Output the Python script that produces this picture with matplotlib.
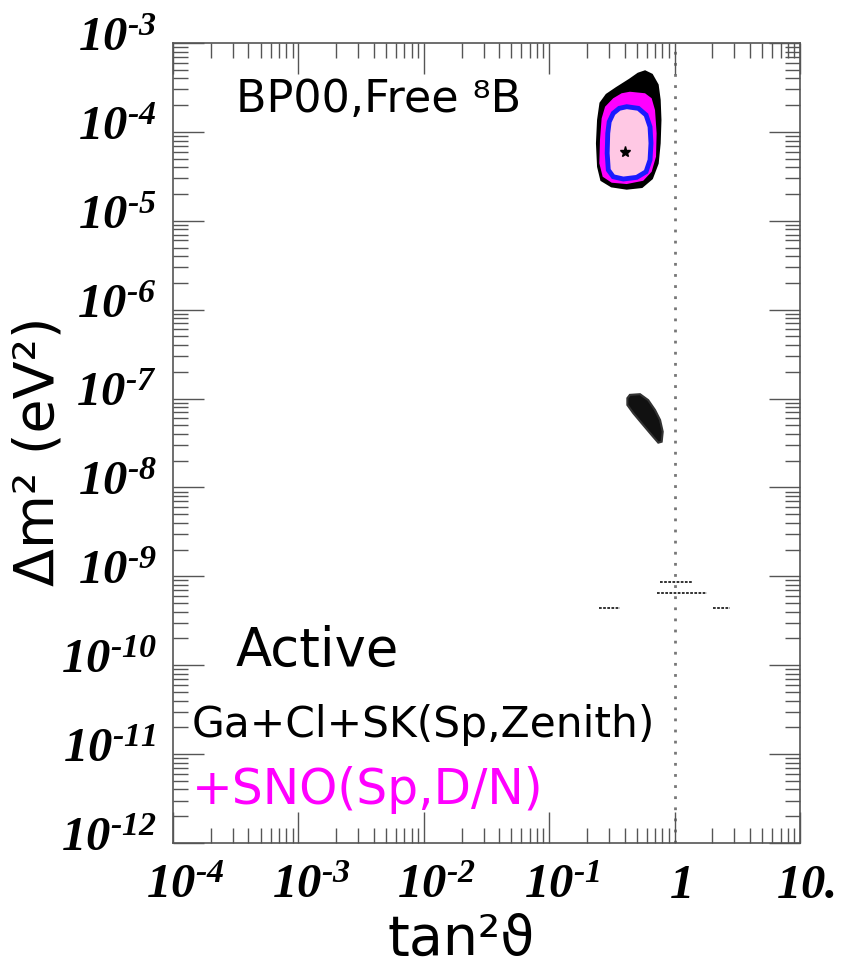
import numpy as np
import matplotlib
matplotlib.use('Agg')
import matplotlib.pyplot as plt
import matplotlib.transforms as mtransforms
from matplotlib.ticker import LogLocator, NullFormatter

# Fuentes: números de los ejes en serif negrita cursiva (mathtext custom)
plt.rcParams['mathtext.fontset'] = 'custom'
plt.rcParams['mathtext.rm'] = 'Liberation Serif:italic:bold'
plt.rcParams['mathtext.it'] = 'Liberation Serif:italic:bold'
plt.rcParams['font.family'] = ['DejaVu Sans']

# Datos: contornos (tan^2 theta, Delta m^2 en eV^2)
# Región exterior negra (LMA)
lma_black_tan2 = [0.581, 0.656, 0.728, 0.755, 0.766, 0.755, 0.728, 0.656, 0.547, 0.415,
                  0.315, 0.262, 0.247, 0.242, 0.247, 0.258, 0.288, 0.345, 0.440, 0.514]
lma_black_dm2 = [4.75e-4, 4.37e-4, 3.37e-4, 2.29e-4, 1.36e-4, 7.44e-5, 4.43e-5, 3.01e-5, 2.42e-5, 2.32e-5,
                 2.46e-5, 2.88e-5, 4.06e-5, 7.44e-5, 1.36e-4, 2.10e-4, 2.60e-4, 3.09e-4, 3.84e-4, 4.48e-4]
# Región magenta
lma_mag_tan2 = [0.440, 0.581, 0.656, 0.698, 0.719, 0.711, 0.656, 0.562, 0.415, 0.315,
                0.267, 0.251, 0.254, 0.262, 0.279, 0.324, 0.378]
lma_mag_dm2 = [2.83e-4, 2.72e-4, 2.39e-4, 1.76e-4, 9.64e-5, 5.26e-5, 3.56e-5, 2.82e-5, 2.59e-5, 2.68e-5,
               3.13e-5, 4.43e-5, 8.11e-5, 1.42e-4, 1.92e-4, 2.39e-4, 2.72e-4]
# Región interior (borde azul, relleno rosa)
lma_in_tan2 = [0.415, 0.514, 0.592, 0.637, 0.648, 0.637, 0.592, 0.499, 0.390, 0.324,
               0.296, 0.290, 0.293, 0.301, 0.324, 0.362]
lma_in_dm2 = [1.92e-4, 1.84e-4, 1.55e-4, 1.14e-4, 7.44e-5, 4.83e-5, 3.56e-5, 3.08e-5, 2.95e-5, 3.13e-5,
              3.73e-5, 5.74e-5, 9.64e-5, 1.30e-4, 1.62e-4, 1.84e-4]
# Mejor ajuste
best_tan2 = [0.40]
best_dm2 = [5.9e-5]
# Región LOW
low_tan2 = [0.440, 0.530, 0.616, 0.698, 0.766, 0.804, 0.789, 0.741, 0.656, 0.547, 0.469, 0.420, 0.420]
low_dm2 = [1.10e-7, 1.12e-7, 9.6e-8, 7.43e-8, 5.74e-8, 4.24e-8, 3.27e-8, 3.19e-8, 3.89e-8,
           5.27e-8, 6.83e-8, 8.47e-8, 1.01e-7]
# Islas de vacío (segmentos horizontales)
vac_dm2 = [8.65e-10, 6.5e-10, 4.4e-10, 4.4e-10]
vac_tan2_min = [0.77, 0.72, 0.25, 2.02]
vac_tan2_max = [1.38, 1.81, 0.37, 2.77]

# Marcas de los ejes (guion corto como en el original)
x_ticks = [1e-4, 1e-3, 1e-2, 1e-1, 1, 10]
x_tick_labels = [r'$10^{‐4}$', r'$10^{‐3}$', r'$10^{‐2}$', r'$10^{‐1}$', r'$1$', r'$10.$']
y_ticks = [10.0**(-k) for k in range(3, 13)]
y_tick_labels = [r'$10^{‐%d}$' % k for k in range(3, 13)]

fig = plt.figure(figsize=(8.46, 9.72), dpi=100)
ax = fig.add_axes([173/846, 1-843/972, 627/846, 800/972])
ax.set_xscale('log')
ax.set_yscale('log')
ax.set_xlim(1e-4, 10)
ax.set_ylim(1e-12, 1e-3)

# Contornos
ax.fill(lma_black_tan2, lma_black_dm2, color='black', lw=2, zorder=2)
ax.fill(lma_mag_tan2, lma_mag_dm2, color='#ff00ff', lw=0, zorder=3)
ax.fill(lma_in_tan2, lma_in_dm2, facecolor='#ffc8e4', edgecolor='#1a1aff', lw=3.5, zorder=4)
ax.plot(best_tan2, best_dm2, marker='*', color='black', ms=8, ls='none', zorder=5)
ax.fill(low_tan2, low_dm2, facecolor='#111111', edgecolor='#333333', lw=1.5, zorder=2)
ax.hlines(vac_dm2, vac_tan2_min, vac_tan2_max, colors='#222222', lw=1.3, linestyles=(0, (1.5, 0.8)), zorder=2)

# Línea de máxima mezcla
ax.axvline(1, color='#777777', ls=(0, (1, 3)), lw=2, zorder=1)

# Ejes y marcas
ax.set_xticks(x_ticks, labels=x_tick_labels)
ax.set_yticks(y_ticks, labels=y_tick_labels)
ax.xaxis.set_minor_locator(LogLocator(base=10, subs=np.arange(2, 10), numticks=20))
ax.yaxis.set_minor_locator(LogLocator(base=10, subs=np.arange(2, 10), numticks=20))
ax.xaxis.set_minor_formatter(NullFormatter())
ax.yaxis.set_minor_formatter(NullFormatter())
ax.tick_params(which='both', direction='in', top=True, right=True, color='#555555', width=1)
ax.tick_params(which='major', length=22, labelsize=35)
ax.tick_params(which='minor', length=11)
ax.tick_params(axis='y', pad=12)
ax.tick_params(axis='x', pad=12)
for s in ax.spines.values():
    s.set_color('#555555')
    s.set_linewidth(1.2)

# Desplazar las etiquetas como en el original
for lab in ax.get_yticklabels():
    lab.set_transform(lab.get_transform() + mtransforms.ScaledTranslation(0, 8/72, fig.dpi_scale_trans))
for lab, t in zip(ax.get_xticklabels(), x_ticks):
    dx = 9 if t < 1 else 4
    lab.set_transform(lab.get_transform() + mtransforms.ScaledTranslation(dx/72, 0, fig.dpi_scale_trans))

ax.set_xlabel('tan²ϑ', fontsize=40, labelpad=4, x=0.46)
ax.set_ylabel('Δm² (eV²)', fontsize=40)
ax.yaxis.set_label_coords(-0.172, 0.49)

# Textos
ax.text(0.10, 0.93, 'BP00,Free ⁸B', transform=ax.transAxes, fontsize=32, va='center', ha='left')
ax.text(0.10, 0.24, 'Active', transform=ax.transAxes, fontsize=38, va='center', ha='left')
ax.text(0.03, 0.147, 'Ga+Cl+SK(Sp,Zenith)', transform=ax.transAxes, fontsize=30.5, va='center', ha='left')
ax.text(0.03, 0.066, '+SNO(Sp,D/N)', transform=ax.transAxes, fontsize=35, va='center', ha='left',
        color='#ff00ff')

plt.savefig('out.png', dpi=100)
